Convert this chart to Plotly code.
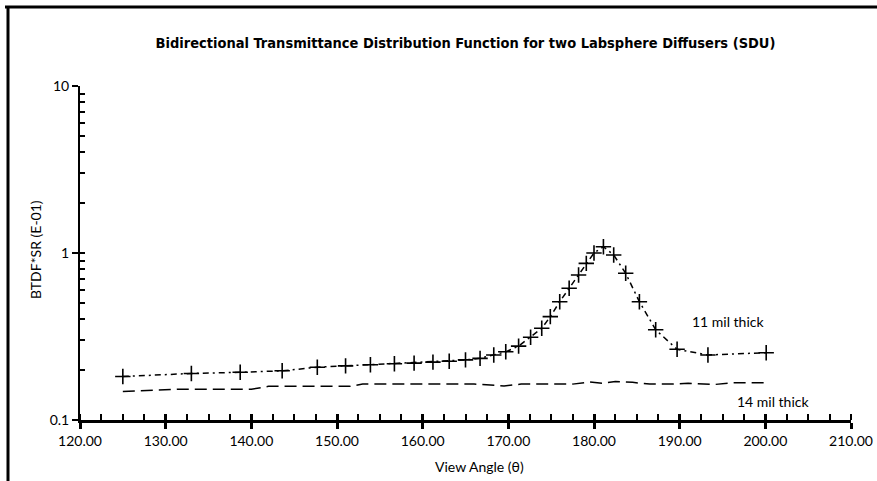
import plotly.graph_objects as go

# 11 mil thick diffuser
angle_11 = [125.0, 133.0, 138.7, 143.6, 147.7, 151.0, 153.9, 156.7, 159.0, 161.2,
            163.1, 165.0, 166.7, 168.3, 169.7, 171.2, 172.6, 173.9, 174.9, 176.0,
            177.1, 178.2, 179.1, 180.0, 181.1, 182.3, 183.7, 185.3, 187.2, 189.7,
            193.3, 200.1]
btdf_11 = [0.182, 0.190, 0.193, 0.197, 0.207, 0.211, 0.214, 0.217, 0.219, 0.222,
           0.225, 0.229, 0.234, 0.245, 0.256, 0.277, 0.313, 0.354, 0.416, 0.511,
           0.615, 0.738, 0.867, 1.00, 1.09, 0.973, 0.756, 0.511, 0.347, 0.265,
           0.245, 0.253]

# 14 mil thick diffuser
angle_14 = [125.0, 127.5, 131.5, 140.0, 142.0, 151.5, 153.0, 166.0, 169.5, 171.5,
            177.5, 179.5, 181.0, 182.5, 184.5, 186.5, 189.0, 191.0, 194.0, 196.0, 200.0]
btdf_14 = [0.148, 0.150, 0.153, 0.153, 0.159, 0.159, 0.164, 0.164, 0.160, 0.164,
           0.164, 0.169, 0.166, 0.170, 0.168, 0.164, 0.164, 0.166, 0.163, 0.167, 0.167]

x_ticks = [120, 130, 140, 150, 160, 170, 180, 190, 200, 210]
x_tick_labels = ["120.00", "130.00", "140.00", "150.00", "160.00", "170.00",
                 "180.00", "190.00", "200.00", "210.00"]
y_ticks = [0.1, 1, 10]
y_tick_labels = ["0.1", "1", "10"]
y_minor = [0.2, 0.3, 0.4, 0.5, 0.6, 0.7, 0.8, 0.9, 2, 3, 4, 5, 6, 7, 8, 9]

FONT = "Lato, Open Sans, DejaVu Sans, sans-serif"

ML, MT, MR, MB = 80, 86, 26, 61
PW, PH = 771, 334
W, H = ML + PW + MR, MT + PH + MB


def px(xpix):
    return (xpix - ML) / PW


def py(ypix):
    return (MT + PH - ypix) / PH


fig = go.Figure()
fig.add_trace(go.Scatter(
    x=angle_11, y=btdf_11, mode="lines+markers", name="11 mil thick",
    line=dict(color="black", width=1.5, dash="6px,4px,2px,4px"),
    marker=dict(symbol="cross-thin", size=11, line=dict(color="black", width=1.6)),
))
fig.add_trace(go.Scatter(
    x=angle_14, y=btdf_14, mode="lines", name="14 mil thick",
    line=dict(color="black", width=1.5, dash="12px,6px"),
))
fig.add_trace(go.Scatter(x=[120, 210], y=[0.1, 10], mode="markers",
                         marker=dict(opacity=0), xaxis="x2", yaxis="y2",
                         hoverinfo="skip", showlegend=False))

fig.update_layout(
    width=W, height=H,
    margin=dict(l=ML, r=MR, t=MT, b=MB, autoexpand=False),
    paper_bgcolor="white", plot_bgcolor="white",
    showlegend=False,
    font=dict(family=FONT, size=14, color="black"),
    title=dict(
        text="<b>Bidirectional Transmittance Distribution Function for two Labsphere Diffusers (SDU)</b>",
        x=0.5, xref="paper", xanchor="center",
        y=1 - 43 / H, yref="container", yanchor="middle",
        font=dict(family="Liberation Sans Narrow, DejaVu Sans Condensed, sans-serif", size=14.5, color="black"),
    ),
    xaxis=dict(
        range=[120, 210], tickmode="array", tickvals=x_ticks, ticktext=x_tick_labels,
        ticks="outside", ticklen=6, tickwidth=2.5, tickcolor="black",
        showline=True, linewidth=3, linecolor="black",
        showgrid=False, zeroline=False,
        tickfont=dict(family=FONT, size=14),
        minor=dict(dtick=2.5, ticks="inside", ticklen=6, tickwidth=2, tickcolor="black", showgrid=False),
    ),
    xaxis2=dict(
        range=[120, 210], overlaying="x", anchor="y", tickmode="array", tickvals=x_ticks,
        showticklabels=False, ticks="inside", ticklen=6, tickwidth=2.5, tickcolor="black",
        showgrid=False, zeroline=False, showline=False,
    ),
    yaxis=dict(
        type="log", range=[-1, 1], tickmode="array", tickvals=y_ticks, ticktext=y_tick_labels,
        ticks="outside", ticklen=6, tickwidth=2, tickcolor="black",
        showline=True, linewidth=2, linecolor="black",
        showgrid=False, zeroline=False,
        tickfont=dict(family=FONT, size=14),
        minor=dict(tickmode="array", tickvals=y_minor, ticks="inside", ticklen=5,
                   tickwidth=1.5, tickcolor="black", showgrid=False),
    ),
    yaxis2=dict(
        type="log", range=[-1, 1], overlaying="y", anchor="x", tickmode="array", tickvals=[1, 10],
        showticklabels=False, ticks="inside", ticklen=5, tickwidth=2, tickcolor="black",
        showgrid=False, zeroline=False, showline=False,
    ),
    annotations=[
        dict(text="11 mil thick", x=px(690), y=py(321),
             xref="paper", yref="paper", xanchor="left", yanchor="middle",
             showarrow=False, font=dict(family=FONT, size=14)),
        dict(text="14 mil thick", x=px(735), y=py(401),
             xref="paper", yref="paper", xanchor="left", yanchor="middle",
             showarrow=False, font=dict(family=FONT, size=14)),
        dict(text="View Angle (θ)", x=px(479), y=py(466),
             xref="paper", yref="paper", xanchor="center", yanchor="middle",
             showarrow=False, font=dict(family=FONT, size=14)),
        dict(text="BTDF*SR (E-01)", x=px(35), y=py(250),
             xref="paper", yref="paper", xanchor="center", yanchor="middle",
             textangle=-90, showarrow=False, font=dict(family=FONT, size=14)),
    ],
    shapes=[
        dict(type="line", xref="paper", yref="paper",
             x0=px(5), x1=px(880), y0=py(7), y1=py(7),
             line=dict(color="black", width=3)),
        dict(type="line", xref="paper", yref="paper",
             x0=px(8), x1=px(8), y0=py(6), y1=py(485),
             line=dict(color="black", width=3)),
    ],
)

fig.write_html(
    "out.html",
    config={"displayModeBar": False},
    post_script="document.body.style.margin='0';document.body.style.overflow='hidden';",
)
